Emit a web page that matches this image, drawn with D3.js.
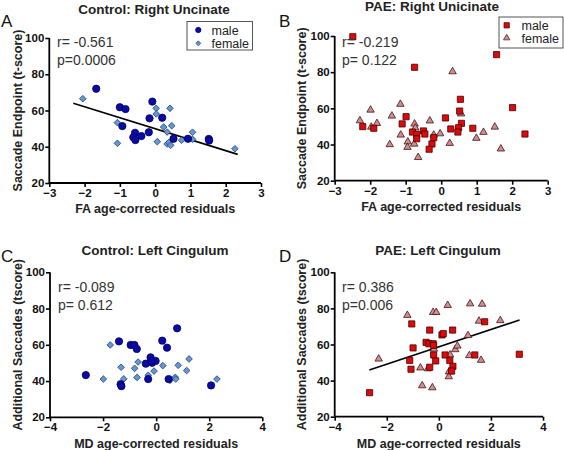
<!DOCTYPE html>
<html>
<head>
<meta charset="utf-8">
<script src="https://cdn.jsdelivr.net/npm/d3@7"></script>
<style>
  html, body { margin: 0; padding: 0; background: #fff; }
  svg { display: block; font-family: "Liberation Sans", Arial, sans-serif; }
</style>
</head>
<body>
<svg id="chart" width="564" height="450"></svg>
<script>
// ---------- DATA ----------
const panelLetters = ["A", "B", "C", "D"];
const panelTitles = ["Control: Right Uncinate", "PAE: Right Unicinate", "Control: Left Cingulum", "PAE: Left Cingulum"];
const yLabels = ["Saccade Endpoint (t-score)", "Saccade Endpoint (t-score)", "Additional Saccades (tscore)", "Additional Saccades (tscore)"];
const xLabels = ["FA age-corrected residuals", "FA age-corrected residuals", "MD age-corrected residuals", "MD age-corrected residuals"];
const rTexts = ["r= -0.561", "r= -0.219", "r= -0.089", "r= 0.386"];
const pTexts = ["p=0.0006", "p= 0.122", "p= 0.612", "p=0.006"];
const xTicksFA = [-3, -2, -1, 0, 1, 2, 3];
const xTicksMD = [-4, -2, 0, 2, 4];
const yTicks = [20, 40, 60, 80, 100];
const legendLabels = ["male", "female"];

// Panel A: Control, Right Uncinate (FA)
const aMale = [[-1.67,72],[-1.0,61.8],[-0.84,60.8],[-0.93,51.4],[-0.08,64.9],[-0.16,55.7],[0.2,56],
  [-0.18,48],[-0.57,47.7],[-0.62,45.2],[-0.56,43.7],[-0.39,45.9],[0.52,44.4],[0.93,44.4],[1.52,44.3],[1.53,43.4]];
const aFemale = [[-2.05,66.5],[-1.07,53.3],[-1.07,41.9],[0.03,61.2],[0.03,58.1],[0.42,61.2],[0.24,50.9],
  [0.47,51.6],[0.34,48.1],[0.06,42.8],[0.34,41.5],[0.39,42.4],[0.44,40.8],[0.75,43.6],[1.06,48],[1.06,44.1],[2.26,38.9]];
const aFit = [[-2.32,64],[2.34,35.8]];

// Panel B: PAE, Right Uncinate (FA)
const bMale = [[-2.49,99.6],[-0.75,82.7],[1.56,89.7],[0.54,65],[0.52,58.5],[2.01,60.4],[-0.99,55.4],[0.12,54.7],
  [-1.1,51.4],[0.57,51.7],[-2.21,49.9],[-1.9,49],[0.27,48.6],[0.89,49],[0.49,49.3],[0.47,46.9],[-0.81,46.9],
  [-0.69,45.6],[-0.69,43.2],[-0.5,47.5],[-0.46,45.8],[-0.21,43.8],[-0.26,40.3],[-0.34,37.4],[2.36,45.8]];
const bFemale = [[-2.29,53.2],[-1.99,59.1],[-1.97,49.7],[-1.81,51.7],[-1.45,40],[-1.39,55.8],[-1.15,62.3],
  [-1.14,45.3],[-0.94,41.5],[-0.95,38.5],[-0.75,51.4],[-0.73,49.2],[-0.76,40.3],[-0.65,32.9],[-0.32,53.1],
  [-0.21,45.3],[-0.03,46],[0.24,40.7],[0.32,80.3],[0.56,57],[0.99,43.5],[1.19,46.8],[1.51,49.7],[1.68,37.6]];

// Panel C: Control, Left Cingulum (MD)
const cMale = [[-2.65,43.3],[-1.4,61.9],[-1.34,38.3],[-1.31,37.2],[-0.96,59.9],[-0.82,59.9],[-0.73,57.7],
  [-0.21,53.1],[-0.39,49.6],[-0.15,50.1],[-0.02,51.1],[-0.18,51.1],[0.23,62.3],[0.41,58.4],[0.79,69.1],
  [-0.3,41.1],[0.47,41.1],[2.07,37.6]];
const cFemale = [[-1.99,41.1],[-1.73,59.9],[-1.32,47.6],[-1.22,41.2],[-0.81,47],[-0.68,50.5],[-0.72,42],
  [-0.3,43.2],[-0.08,45.5],[0.25,48.5],[0.83,48.7],[0.72,42.1],[0.74,41.1],[0.52,40.4],[1.15,45.8],[1.24,52.2],[2.29,41.1]];

// Panel D: PAE, Left Cingulum (MD)
const dMale = [[-2.66,33.3],[-1.04,71.4],[-0.99,58.1],[-1.12,51.2],[-1.07,46.3],[-0.35,68],[-0.49,61.2],
  [-0.38,60.4],[-0.22,60.4],[-0.2,59.5],[-0.2,54.2],[-0.12,50.9],[-0.35,47.4],[0.12,65.3],[0.17,66],[0.53,68],
  [0.24,54.2],[0.42,51.2],[0.54,47.9],[0.49,45.3],[1.38,54.2],[1.76,72.6],[3.09,54.6]];
const dFemale = [[-2.31,52],[-1.21,76.2],[-0.71,47.1],[-0.64,37.2],[-0.42,46.6],[-0.25,36.1],[-0.22,77.8],
  [-0.1,77.8],[-0.19,57.5],[0.34,81.7],[0.43,54.3],[0.39,44.9],[0.38,42.2],[0.63,57.2],[0.71,59.2],
  [1.12,65],[1.2,82.6],[1.66,82.4],[1.54,73],[2.36,73.3],[1.17,53.9],[1.62,51.3]];
const dFit = [[-2.67,45.9],[3.1,73.6]];

// ---------- LAYOUT ----------
const panels = [
  { male: aMale, female: aFemale, fit: aFit, xd: [-3, 3], xTicks: xTicksFA, xr: [49.3, 261], yr: [183, 38],
    group: "control", letter: [1, 27], title: [154, 14], ylab: 22, xlab: 213,
    rp: [57, 47], legend: { x: 187, y: 21.5, w: 65.5, h: 28.5, mx: 198.3, tx: 211.5, my: [30, 43.3] } },
  { male: bMale, female: bFemale, fit: null, xd: [-3, 3], xTicks: xTicksFA, xr: [334.7, 547.7], yr: [180.7, 36],
    group: "pae", letter: [279, 27], title: [432, 11], ylab: 306, xlab: 211,
    rp: [342, 47], legend: { x: 499, y: 17, w: 64, h: 31, mx: 506.7, tx: 521.5, my: [25.3, 38] } },
  { male: cMale, female: cFemale, fit: null, xd: [-4, 4], xTicks: xTicksMD, xr: [50, 262.3], yr: [417.3, 272.3],
    group: "control", letter: [1, 262], title: [155, 255], ylab: 22, xlab: 448, rp: [58, 292] },
  { male: dMale, female: dFemale, fit: dFit, xd: [-4, 4], xTicks: xTicksMD, xr: [334.7, 543], yr: [416.7, 272.3],
    group: "pae", letter: [279, 262], title: [438, 255], ylab: 306, xlab: 448, rp: [342, 292] }
];

const styles = {
  control: {
    male: { shape: d3.symbolCircle, size: 42, rot: 0, fill: "#0a0aa8", stroke: "#00005a" },
    female: { shape: d3.symbolSquare, size: 22, rot: 45, fill: "#6496d2", stroke: "#264a80" },
    legendScale: 0.55
  },
  pae: {
    male: { shape: d3.symbolSquare, size: 38, rot: 0, fill: "#dc0a0a", stroke: "#4a0000" },
    female: { shape: d3.symbolTriangle, size: 24, rot: 0, fill: "#d68a8e", stroke: "#3a1818" },
    legendScale: 0.75
  }
};

const svg = d3.select("#chart");

panels.forEach((p, i) => {
  const x = d3.scaleLinear().domain(p.xd).range(p.xr);
  const y = d3.scaleLinear().domain([20, 100]).range(p.yr);
  const g = svg.append("g");
  const st = styles[p.group];

  // panel letter
  g.append("text").attr("x", p.letter[0]).attr("y", p.letter[1])
    .attr("font-size", 17).attr("fill", "#111").text(panelLetters[i]);

  // title
  g.append("text").attr("x", p.title[0]).attr("y", p.title[1]).attr("text-anchor", "middle")
    .attr("font-size", 13.5).attr("font-weight", "bold").attr("fill", "#222").text(panelTitles[i]);

  // axes
  const xAxis = d3.axisBottom(x).tickValues(p.xTicks).tickSize(4).tickPadding(2).tickFormat(d3.format("d"));
  const yAxis = d3.axisLeft(y).tickValues(yTicks).tickSize(4).tickPadding(1).tickFormat(d3.format("d"));
  const gx = g.append("g").attr("transform", `translate(0,${p.yr[0]})`).call(xAxis);
  const gy = g.append("g").attr("transform", `translate(${p.xr[0]},0)`).call(yAxis);
  [gx, gy].forEach(ax => {
    ax.select(".domain").attr("stroke", "#000").attr("stroke-width", 1.8);
    ax.selectAll(".tick line").attr("stroke", "#000").attr("stroke-width", 1.6);
    ax.selectAll(".tick text").attr("font-size", 11.5).attr("font-weight", "bold")
      .attr("fill", "#111").attr("font-family", "'Liberation Sans', Arial, sans-serif");
  });
  gx.select(".domain").attr("d", `M${p.xr[0]},0H${p.xr[1]}`);
  gy.select(".domain").attr("d", `M0,${p.yr[0]}V${p.yr[1]}`);

  // axis labels
  g.append("text")
    .attr("transform", `translate(${p.ylab},${(p.yr[0] + p.yr[1]) / 2}) rotate(-90)`)
    .attr("text-anchor", "middle").attr("font-size", 12.5).attr("font-weight", "bold")
    .attr("fill", "#222").text(yLabels[i]);
  g.append("text").attr("x", (p.xr[0] + p.xr[1]) / 2).attr("y", p.xlab)
    .attr("text-anchor", "middle").attr("font-size", 12.5).attr("font-weight", "bold")
    .attr("fill", "#222").text(xLabels[i]);

  // regression line
  if (p.fit) {
    g.append("line")
      .attr("x1", x(p.fit[0][0])).attr("y1", y(p.fit[0][1]))
      .attr("x2", x(p.fit[1][0])).attr("y2", y(p.fit[1][1]))
      .attr("stroke", "#000").attr("stroke-width", 1.6);
  }

  // points
  const drawSet = (data, s) => {
    g.append("g").selectAll("path").data(data).join("path")
      .attr("transform", d => `translate(${x(d[0])},${y(d[1])}) rotate(${s.rot})`)
      .attr("d", d3.symbol().type(s.shape).size(s.size))
      .attr("fill", s.fill).attr("stroke", s.stroke).attr("stroke-width", 0.8);
  };
  drawSet(p.female, st.female);
  drawSet(p.male, st.male);

  // r / p annotation
  g.append("text").attr("x", p.rp[0]).attr("y", p.rp[1])
    .attr("font-size", 14).attr("fill", "#333").text(rTexts[i]);
  g.append("text").attr("x", p.rp[0]).attr("y", p.rp[1] + 18)
    .attr("font-size", 14).attr("fill", "#333").text(pTexts[i]);

  // legend
  if (p.legend) {
    const L = p.legend;
    g.append("rect").attr("x", L.x).attr("y", L.y).attr("width", L.w).attr("height", L.h)
      .attr("fill", "#fff").attr("stroke", "#555").attr("stroke-width", 1);
    [st.male, st.female].forEach((s, k) => {
      g.append("path").attr("transform", `translate(${L.mx},${L.my[k]}) rotate(${s.rot})`)
        .attr("d", d3.symbol().type(s.shape).size(s.size * st.legendScale))
        .attr("fill", s.fill).attr("stroke", s.stroke).attr("stroke-width", 0.7);
      g.append("text").attr("x", L.tx).attr("y", L.my[k] + 4.5)
        .attr("font-size", 12.5).attr("fill", "#222").text(legendLabels[k]);
    });
  }
});
</script>
</body>
</html>
